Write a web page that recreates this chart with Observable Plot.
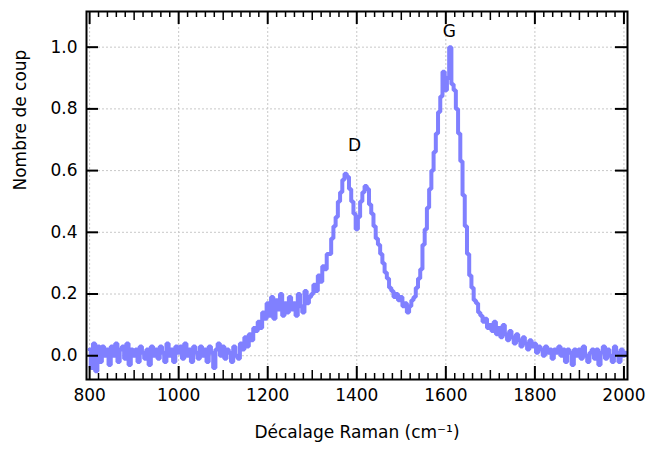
<!DOCTYPE html>
<html>
<head>
<meta charset="utf-8">
<script src="https://cdn.jsdelivr.net/npm/d3@7"></script>
<script src="https://cdn.jsdelivr.net/npm/@observablehq/plot@0.6"></script>
<style>
  html, body { margin: 0; padding: 0; background: #fff; }
</style>
</head>
<body>
<div id="chart"></div>
<script>
// Raman shift sampling (cm-1): start, step
const shiftStart = 800;
const shiftStep = 5;
// Normalised counts, one per 5 cm-1 from 800 to 2005
const counts = [
  0.02, -0.04, 0.04, -0.05, 0.03, -0.02, 0.03, 0.00, 0.02, -0.03,
  0.03, 0.00, 0.04, -0.02, 0.02, 0.03, -0.01, 0.04, -0.03, 0.02,
  0.00, 0.02, -0.02, 0.03, 0.01, -0.01, 0.02, -0.03, 0.03, 0.00,
  0.02, -0.01, 0.03, 0.01, -0.02, 0.04, 0.00, 0.02, -0.02, 0.03,
  0.01, 0.03, -0.01, 0.04, 0.00, 0.02, -0.02, 0.03, 0.01, -0.01,
  0.03, 0.00, 0.02, -0.02, 0.03, 0.01, -0.04, 0.02, 0.04, 0.00,
  0.03, -0.01, 0.02, 0.01, -0.02, 0.03, 0.00, -0.01, 0.04, 0.02,
  0.06, 0.03, 0.07, 0.05, 0.09, 0.08, 0.11, 0.09, 0.14, 0.12,
  0.17, 0.13, 0.19, 0.12, 0.18, 0.15, 0.20, 0.13, 0.17, 0.14,
  0.19, 0.15, 0.17, 0.13, 0.20, 0.16, 0.14, 0.21, 0.17, 0.19,
  0.20, 0.23, 0.21, 0.26, 0.24, 0.29, 0.28, 0.33, 0.33, 0.38,
  0.42, 0.45, 0.50, 0.53, 0.57, 0.59, 0.58, 0.54, 0.50, 0.46,
  0.41, 0.45, 0.50, 0.53, 0.55, 0.54, 0.49, 0.46, 0.42, 0.38,
  0.36, 0.33, 0.30, 0.27, 0.25, 0.22, 0.21, 0.19, 0.20, 0.18,
  0.19, 0.16, 0.17, 0.14, 0.16, 0.18, 0.19, 0.22, 0.25, 0.28,
  0.36, 0.41, 0.48, 0.54, 0.60, 0.66, 0.72, 0.79, 0.84, 0.92,
  0.86, 0.90, 1.00, 0.88, 0.86, 0.80, 0.72, 0.63, 0.52, 0.42,
  0.33, 0.26, 0.22, 0.18, 0.17, 0.14, 0.13, 0.11, 0.12, 0.09,
  0.10, 0.08, 0.11, 0.07, 0.09, 0.06, 0.10, 0.07, 0.05, 0.08,
  0.06, 0.04, 0.07, 0.05, 0.03, 0.06, 0.04, 0.02, 0.05, 0.03,
  0.04, 0.01, 0.03, 0.02, 0.00, 0.03, 0.01, 0.02, -0.01, 0.02,
  0.01, 0.03, 0.00, 0.02, -0.02, 0.02, 0.01, -0.03, 0.02, 0.00,
  0.02, -0.01, 0.03, 0.00, -0.02, 0.01, 0.02, -0.01, 0.02, -0.03,
  0.01, 0.03, -0.01, 0.02, 0.00, -0.02, 0.03, 0.01, -0.02, 0.02,
  0.00, 0.01
];
// Axis ticks
const xMajorTicks = [800, 1000, 1200, 1400, 1600, 1800, 2000];
const xMidTicks = [900, 1100, 1300, 1500, 1700, 1900];
const xMinorTicks = d3.range(800, 2001, 20).filter(v => v % 100 !== 0);
const yTicks = [0.0, 0.2, 0.4, 0.6, 0.8, 1.0];
// Peak annotations
const peakLabels = ["D", "G"];
const peakShift = [1395, 1608];
const peakHeight = [0.68, 1.05];

const xTitle = "Décalage Raman (cm⁻¹)";
const yTitle = "Nombre de coup";

const spectrum = counts.map((c, i) => ({shift: shiftStart + i * shiftStep, count: c}));
const peaks = peakLabels.map((l, i) => ({label: l, shift: peakShift[i], count: peakHeight[i]}));

const W = 648, H = 454;
const mT = 11, mB = 75, mL = 86, mR = 21;
const frameH = H - mT - mB;
const frameW = W - mL - mR;
const font = "DejaVu Sans, sans-serif";

const chart = Plot.plot({
  width: W,
  height: H,
  marginTop: mT,
  marginBottom: mB,
  marginLeft: mL,
  marginRight: mR,
  style: {fontFamily: font, fontSize: "17px", background: "#fff", color: "#000"},
  x: {domain: [793, 2008], axis: null},
  y: {domain: [-0.077, 1.1156], axis: null},
  marks: [
    // dotted grid
    Plot.ruleX(xMajorTicks, {stroke: "#c8c8c8", strokeWidth: 1, strokeDasharray: "2,2"}),
    Plot.ruleY(yTicks, {stroke: "#c8c8c8", strokeWidth: 1, strokeDasharray: "2,2"}),
    // spectrum
    Plot.line(spectrum, {x: "shift", y: "count", curve: "step", stroke: "#8080ff", strokeWidth: 4, strokeLinejoin: "miter"}),
    // inward ticks bottom
    Plot.tickX(xMajorTicks, {x: d => d, insetTop: frameH - 13, stroke: "#000", strokeWidth: 2}),
    Plot.tickX(xMidTicks, {x: d => d, insetTop: frameH - 9, stroke: "#000", strokeWidth: 1.5}),
    Plot.tickX(xMinorTicks, {x: d => d, insetTop: frameH - 6, stroke: "#000", strokeWidth: 1.5}),
    // inward ticks top
    Plot.tickX(xMajorTicks, {x: d => d, insetBottom: frameH - 13, stroke: "#000", strokeWidth: 2}),
    Plot.tickX(xMidTicks, {x: d => d, insetBottom: frameH - 9, stroke: "#000", strokeWidth: 1.5}),
    Plot.tickX(xMinorTicks, {x: d => d, insetBottom: frameH - 6, stroke: "#000", strokeWidth: 1.5}),
    // inward ticks left / right
    Plot.tickY(yTicks, {y: d => d, insetRight: frameW - 12, stroke: "#000", strokeWidth: 2}),
    Plot.tickY(yTicks, {y: d => d, insetLeft: frameW - 12, stroke: "#000", strokeWidth: 2}),
    // frame
    Plot.frame({stroke: "#000", strokeWidth: 2}),
    // tick labels
    Plot.text(xMajorTicks, {x: d => d, frameAnchor: "bottom", dy: 21, text: d => String(d), fontSize: 17, fill: "#000"}),
    Plot.text(yTicks, {y: d => d, frameAnchor: "left", dx: -9, textAnchor: "end", text: d => d.toFixed(1), fontSize: 17, fill: "#000"}),
    // axis titles
    Plot.text([xTitle], {frameAnchor: "bottom", dy: 58, text: d => d, fontSize: 17, fill: "#000"}),
    Plot.text([yTitle], {frameAnchor: "left", dx: -66, dy: -5, rotate: -90, text: d => d, fontSize: 17, fill: "#000"}),
    // peak labels
    Plot.text(peaks, {x: "shift", y: "count", text: "label", fontSize: 17, fill: "#000"})
  ]
});
document.getElementById("chart").appendChild(chart);
</script>
</body>
</html>
